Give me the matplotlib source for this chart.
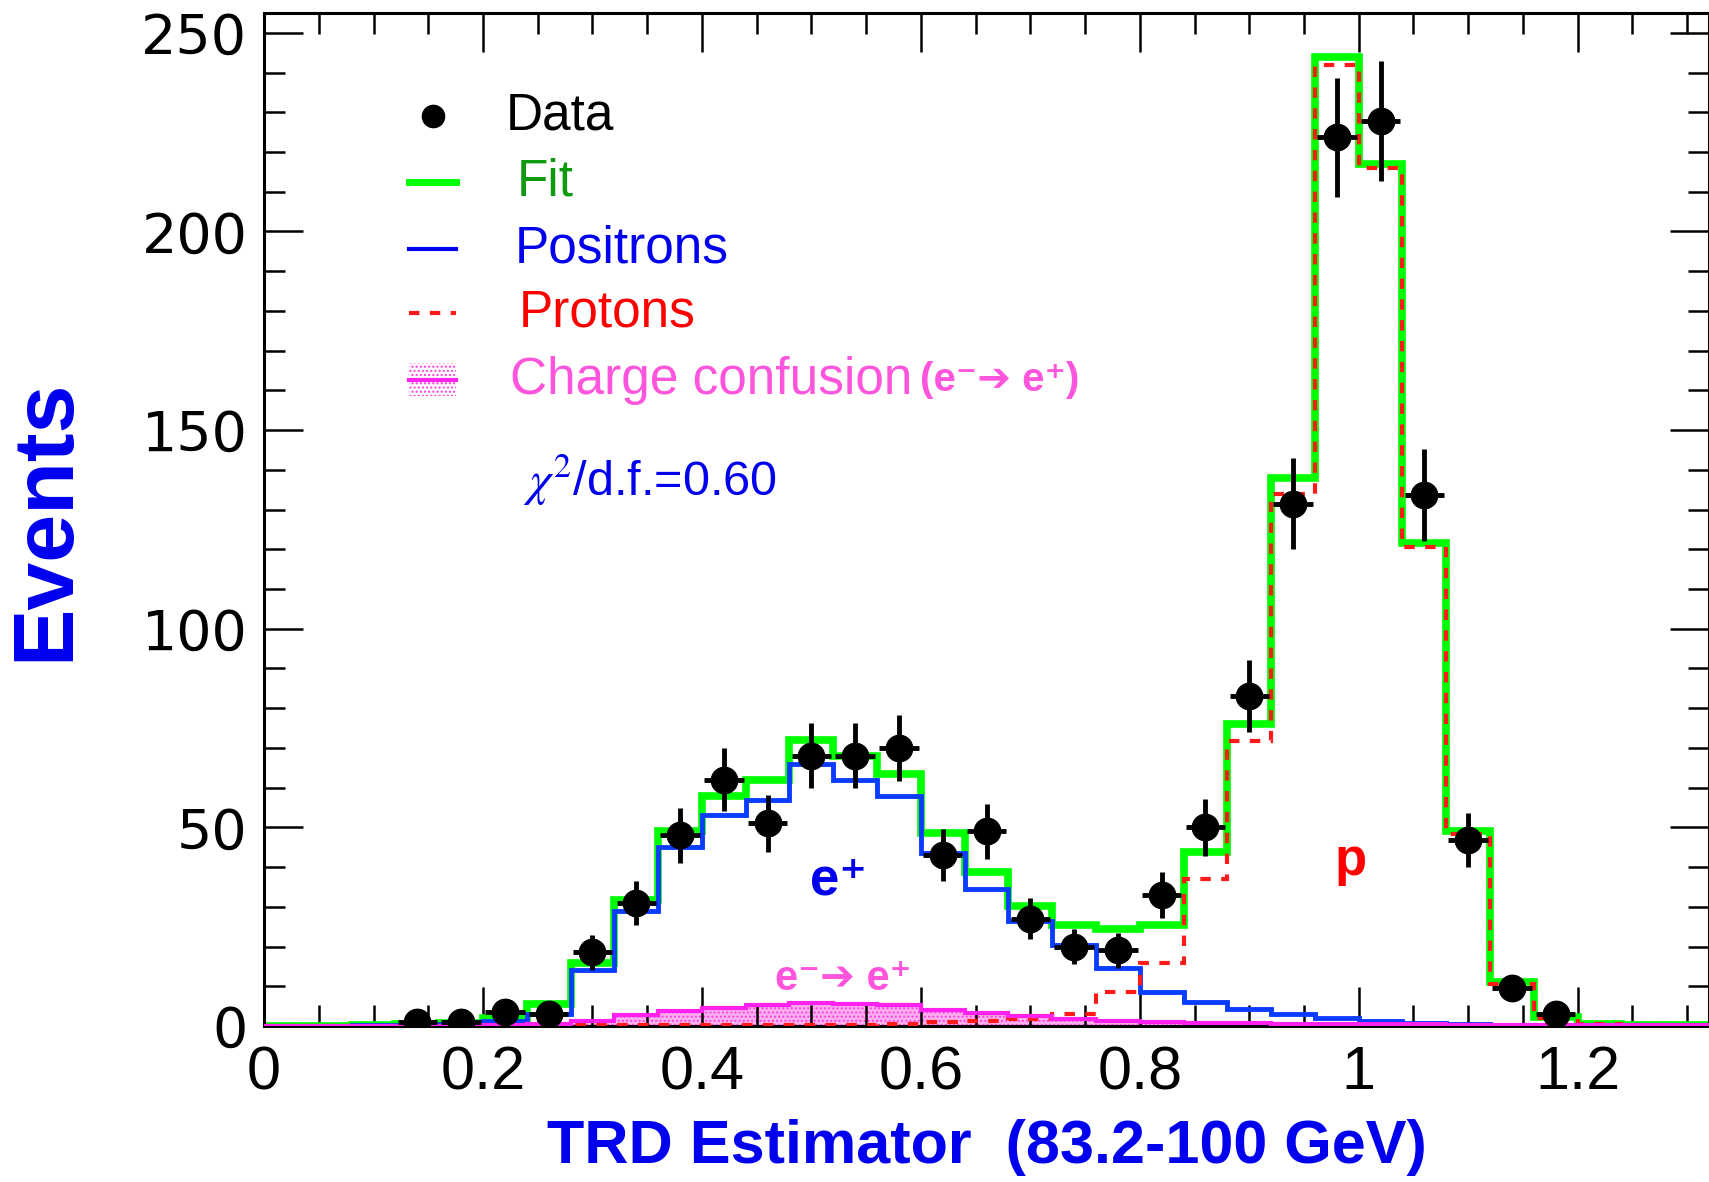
import numpy as np
import matplotlib
matplotlib.use('Agg')
import matplotlib.pyplot as plt
from matplotlib.patches import Rectangle
from matplotlib.ticker import MultipleLocator

plt.rcParams['mathtext.fontset'] = 'stix'

# bin edges: 33 bins of 0.04 from 0 to 1.32
edges = np.linspace(0, 1.32, 34)

fit = [0.1, 0.1, 0.2, 0.4, 0.8, 2.0, 5.6, 15.8, 31.8, 49, 57.8, 62, 72, 68, 63.5,
       48.6, 38.8, 30.3, 25.4, 24.4, 25.4, 43.9, 76, 138, 244, 217, 121.7, 49.2,
       11, 2.3, 0.6, 0.3, 0.2]
positrons = [0.05, 0.1, 0.15, 0.3, 0.5, 1.2, 3, 14, 29, 45, 53, 57, 66, 62, 58,
             43.6, 34.6, 26.5, 20.3, 14.5, 8.6, 6, 4.2, 2.9, 2.1, 1.3, 0.8, 0.4,
             0.2, 0.15, 0.1, 0.1, 0.05]
protons = [0, 0, 0, 0, 0.1, 0.1, 0.1, 0.2, 0.2, 0.2, 0.2, 0.2, 0.2, 0.3, 0.6,
           0.9, 1.2, 1.8, 3, 8.6, 15.8, 37, 71.8, 134, 242, 216, 120.6, 48.4,
           10.5, 2, 0.5, 0.2, 0.1]
charge = [0, 0, 0, 0, 0.1, 0.2, 0.5, 1.3, 2.7, 3.8, 4.6, 5.2, 5.7, 5.5, 5.2, 4,
          3.3, 2.5, 1.8, 1.3, 1, 0.8, 0.7, 0.6, 0.5, 0.4, 0.4, 0.3, 0.3, 0.2,
          0.2, 0.2, 0.2]

data_x = [0.14, 0.18, 0.22, 0.26, 0.30, 0.34, 0.38, 0.42, 0.46, 0.50, 0.54, 0.58,
          0.62, 0.66, 0.70, 0.74, 0.78, 0.82, 0.86, 0.90, 0.94, 0.98, 1.02, 1.06,
          1.10, 1.14, 1.18]
data_y = [1, 1, 3.4, 3, 18.5, 31, 48, 62, 51, 68, 68, 70, 43, 49, 27, 20, 19,
          33, 50, 83, 131.5, 223.7, 227.8, 133.6, 46.7, 9.6, 3]
data_err = [1, 1, 1.8, 1.7, 4.3, 5.6, 6.9, 7.9, 7.1, 8.2, 8.2, 8.4, 6.5, 7, 5.2,
            4.4, 4.3, 5.7, 7.1, 9.1, 11.5, 15, 15.1, 11.6, 6.8, 3.1, 1.7]

GREEN = '#00ff00'
BLUE = '#0a3cff'
RED = '#ff1a1a'
MAGENTA = '#ff22ee'
PINK = '#ff55dd'

fig = plt.figure(figsize=(17.09, 11.82), dpi=100)
ax = fig.add_axes([0.1545, 0.132, 0.8455, 0.857])

ax.fill_between(edges, np.append(charge, charge[-1]), step='post',
                facecolor='#ffb0f0', edgecolor='#ff40e0', hatch='....',
                linewidth=0, zorder=1)
ax.stairs(fit, edges, color=GREEN, lw=5.5, zorder=2)
ax.stairs(positrons, edges, color=BLUE, lw=3.5, zorder=3)
ax.stairs(protons, edges, color=RED, lw=3, linestyle=(0, (2.5, 2.5)), zorder=4)
ax.stairs(charge, edges, color=MAGENTA, lw=3, zorder=5)
ax.errorbar(data_x, data_y, yerr=data_err, xerr=0.018, fmt='o', color='black',
            markersize=19, elinewidth=3.5, capsize=0, zorder=6)

ax.set_xlim(0, 1.32)
ax.set_ylim(0, 255)
ax.xaxis.set_minor_locator(MultipleLocator(0.05))
ax.yaxis.set_major_locator(MultipleLocator(50))
ax.yaxis.set_minor_locator(MultipleLocator(10))
ax.set_xticks([0, 0.2, 0.4, 0.6, 0.8, 1.0, 1.2])
ax.set_xticklabels(['0', '0.2', '0.4', '0.6', '0.8', '1', '1.2'])
ax.tick_params(which='both', direction='in', top=True, right=True, width=1.8)
ax.tick_params(which='major', length=28)
ax.tick_params(which='minor', length=15)
ax.tick_params(axis='y', pad=12, labelsize=40)
ax.tick_params(axis='x', pad=14, labelsize=44)
for lab in ax.get_yticklabels():
    lab.set_family('DejaVu Sans')
for lab in ax.get_xticklabels():
    lab.set_family('Liberation Sans')
for sp in ax.spines.values():
    sp.set_linewidth(2.2)

ax.set_xlabel('TRD Estimator  (83.2-100 GeV)', color='#0000ee', fontsize=44,
              fontweight='bold', family='Liberation Sans', labelpad=12)
ax.set_ylabel('Events', color='#0000ee', fontsize=62, fontweight='bold',
              family='Liberation Sans', labelpad=40)

# legend drawn by hand
fam = ['Liberation Sans', 'DejaVu Sans']
fs = 37
ax.plot([0.154], [229], 'o', color='black', markersize=16)
ax.text(0.221, 229, 'Data', fontsize=fs, va='center', family=fam, color='black')
ax.plot([0.132, 0.175], [212.5, 212.5], color=GREEN, lw=5)
ax.text(0.231, 212.5, 'Fit', fontsize=fs, va='center', family=fam, color='#109a10')
ax.plot([0.132, 0.175], [195.5, 195.5], color='#0000ee', lw=3)
ax.text(0.229, 195.5, 'Positrons', fontsize=fs, va='center', family=fam, color='#0000ee')
ax.plot([0.132, 0.175], [179.4, 179.4], color=RED, lw=3, linestyle=(0, (2.5, 2.5)))
ax.text(0.233, 179.4, 'Protons', fontsize=fs, va='center', family=fam, color='#ff0000')
ax.add_patch(Rectangle((0.132, 158.5), 0.043, 8.5, facecolor='white',
                       edgecolor='#ff40e0', hatch='....', linewidth=0))
ax.plot([0.132, 0.175], [162.6, 162.6], color=MAGENTA, lw=3)
cc = ax.text(0.225, 162.6, 'Charge confusion', fontsize=fs, va='center',
             family=fam, color=PINK)
ax.annotate('(e\u207b\u2794 e\u207a)', xy=(1, 0.5), xycoords=cc,
            xytext=(5, 0), textcoords='offset points', fontsize=29,
            va='center', family=fam, color=PINK, fontweight='bold')
ax.text(0.237, 137.4, r'$\chi^2$/d.f.=0.60', fontsize=35, va='center',
        family=fam, color='#0000ee')

ax.text(0.525, 36.5, 'e\u207a', fontsize=38, ha='center', va='center',
        family=fam, color='#0000ee', fontweight='bold')
ax.text(0.993, 41.5, 'p', fontsize=38, ha='center', va='center',
        family=fam, color='#ff0000', fontweight='bold')
ax.text(0.529, 11.8, 'e\u207b\u2794 e\u207a', fontsize=30, ha='center', va='center',
        family=fam, color=PINK, fontweight='bold')

fig.savefig('out.png', dpi=100)
